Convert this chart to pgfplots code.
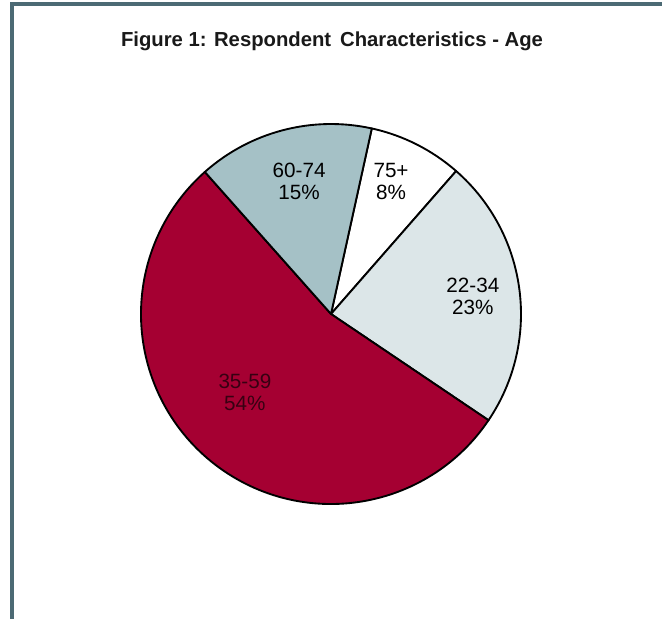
\documentclass[border=0pt]{standalone}
\usepackage{pgfplots}
\usepackage{pgfplotstable}
\pgfplotsset{compat=1.18}
\usepackage{fontspec}
\setmainfont{Liberation Sans}
\definecolor{frame}{RGB}{76,106,116}
\definecolor{cA}{RGB}{220,230,232}
\definecolor{cB}{RGB}{165,0,50}
\definecolor{cC}{RGB}{165,193,198}
\definecolor{cD}{RGB}{255,255,255}
\definecolor{darklab}{RGB}{55,0,18}
% slices clockwise, starting at 77.6 degrees
\pgfplotstableread{
label value color lx ly tcol
75+ 8 cD 0.316 0.70 black
22-34 23 cA 0.747 0.095 black
35-59 54 cB -0.453 -0.411 darklab
60-74 15 cC -0.168 0.70 black
}\agedata
\begin{document}
\begin{tikzpicture}[x=0.75pt,y=0.75pt]
\useasboundingbox (0,0) rectangle (662,619);
\fill[white] (0,0) rectangle (662,619);
\fill[frame] (10,613) rectangle (662,617);
\fill[frame] (10,0) rectangle (14,617);
\node[anchor=base,font=\fontsize{15.2}{18}\selectfont\bfseries,text=black!90] at (332,572) {Figure 1: Respondent\, Characteristics - Age};
\begin{axis}[
  at={(105.75pt,86.25pt)}, anchor=south west,
  width=285pt, height=285pt, scale only axis,
  xmin=-1, xmax=1, ymin=-1, ymax=1,
  hide axis, clip=false,
]
\pgfplotstablegetrowsof{\agedata}
\pgfmathtruncatemacro\nrows{\pgfplotsretval-1}
\gdef\angstart{77.6}
\pgfplotsforeachungrouped \i in {0,...,\nrows}{
  \pgfplotstablegetelem{\i}{value}\of\agedata \let\val\pgfplotsretval
  \pgfplotstablegetelem{\i}{color}\of\agedata \let\col\pgfplotsretval
  \pgfplotstablegetelem{\i}{label}\of\agedata \let\lab\pgfplotsretval
  \pgfplotstablegetelem{\i}{lx}\of\agedata \let\lx\pgfplotsretval
  \pgfplotstablegetelem{\i}{ly}\of\agedata \let\ly\pgfplotsretval
  \pgfplotstablegetelem{\i}{tcol}\of\agedata \let\tcol\pgfplotsretval
  \pgfmathsetmacro\angend{\angstart-3.6*\val}
  \edef\temp{\noexpand\filldraw[fill=\col, draw=black, line width=1.4pt, line join=round] (axis cs:0,0) -- ++(\angstart:142.5pt) arc[start angle=\angstart, end angle=\angend, radius=142.5pt] -- cycle;
  \noexpand\node[align=center, text=\tcol, font=\noexpand\fontsize{15.5}{16.5}\noexpand\selectfont] at (axis cs:\lx,\ly) {\lab\noexpand\\\val\noexpand\%};}
  \temp
  \global\let\angstart\angend
}
\end{axis}
\end{tikzpicture}
\end{document}
